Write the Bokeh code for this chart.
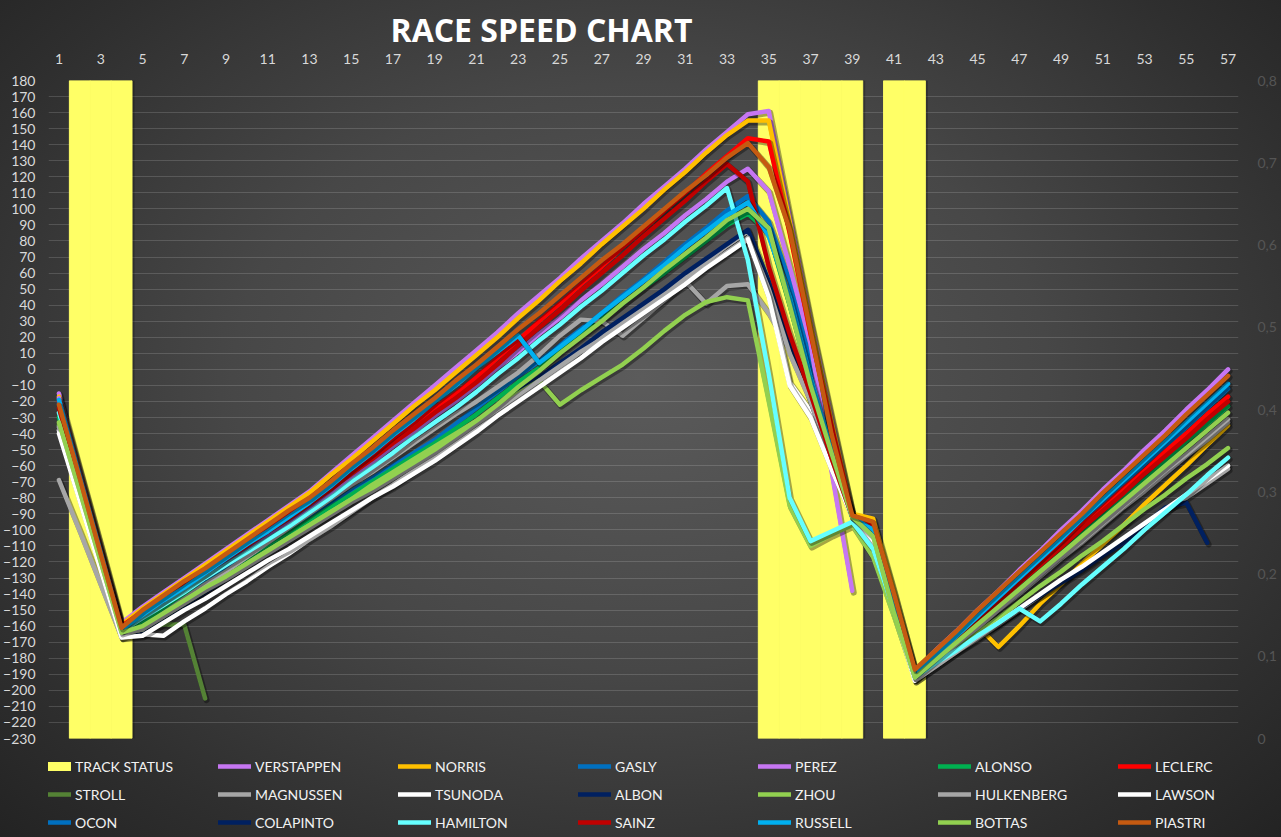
from bokeh.plotting import figure
from bokeh.layouts import column
from bokeh.models import (Range1d, LinearAxis, FixedTicker, CustomJSTickFormatter,
                          Legend, LegendItem, InlineStyleSheet)
from bokeh.embed import file_html
from bokeh.resources import INLINE

NAN = float("nan")
LAPS = list(range(1, 58))
X_TICKS = list(range(1, 58, 2))
Y_TICKS = list(range(-230, 181, 10))
STATUS_TICKS = [0, 0.1, 0.2, 0.3, 0.4, 0.5, 0.6, 0.7, 0.8]

# 0.8 = safety car / VSC lap (secondary axis)
TRACK_STATUS = [
    0, 0.8, 0.8, 0.8, 0, 0, 0, 0, 0, 0,
    0, 0, 0, 0, 0, 0, 0, 0, 0, 0,
    0, 0, 0, 0, 0, 0, 0, 0, 0, 0,
    0, 0, 0, 0, 0.8, 0.8, 0.8, 0.8, 0.8, 0,
    0.8, 0.8, 0, 0, 0, 0, 0, 0, 0, 0,
    0, 0, 0, 0, 0, 0, 0]

VERSTAPPEN = [
    -15, -63, -110, -158, -148, -139, -130, -121, -112, -103,
    -94, -85, -76, -65, -54, -43, -32, -21, -10, 1,
    12, 23, 35, 46, 57, 69, 80, 91, 103, 114,
    125, 137, 148, 159, 161, 95, 30, -30, -90, -97,
    -142, -188, -175, -163, -150, -138, -125, -113, -100, -88,
    -75, -63, -50, -38, -25, -13, 0]
NORRIS = [
    -17, -64, -111, -159, -149, -140, -131, -122, -113, -104,
    -95, -86, -77, -66, -56, -45, -34, -23, -13, -2,
    9, 20, 32, 43, 55, 66, 78, 89, 100, 112,
    123, 135, 146, 155, 155, 92, 28, -32, -90, -93,
    -139, -188, -179, -169, -160, -173, -160, -146, -134, -121,
    -109, -97, -84, -72, -60, -47, -35]
GASLY = [
    -21, -68, -115, -162, -156, -148, -140, -132, -124, -116,
    -108, -100, -92, -84, -76, -68, -60, -52, -44, -34,
    -24, -14, -4, 5, 15, 25, 35, 46, 56, 67,
    78, 88, 99, 108, 92, 55, 5, -45, -91, -100,
    -145, -190, -178, -166, -154, -143, -131, -119, -107, -95,
    -83, -71, -59, -48, -36, -24, -12]
PEREZ = [
    -18, -65, -113, -160, -153, -145, -136, -128, -120, -111,
    -103, -95, -87, -77, -68, -58, -48, -39, -29, -20,
    -10, 1, 11, 22, 32, 43, 53, 64, 75, 85,
    96, 106, 117, 125, 111, 64, 16, -63, -138]
ALONSO = [
    -30, -74, -119, -163, -158, -150, -142, -134, -126, -118,
    -110, -102, -94, -86, -78, -70, -62, -54, -46, -37,
    -28, -18, -8, 1, 11, 21, 31, 41, 51, 60,
    70, 80, 90, 97, 85, 40, -8, -50, -92, -104,
    -148, -191, -180, -169, -157, -146, -135, -124, -113, -101,
    -90, -79, -68, -57, -45, -34, -23]
LECLERC = [
    -20, -67, -113, -160, -151, -142, -134, -125, -117, -108,
    -99, -91, -82, -72, -63, -53, -43, -34, -24, -15,
    -5, 7, 18, 30, 41, 53, 64, 76, 87, 99,
    110, 122, 133, 144, 142, 85, 22, -35, -91, -98,
    -143, -189, -178, -166, -155, -143, -132, -120, -109, -97,
    -86, -74, -63, -51, -40, -28, -17]
STROLL = [-34, -77, -120, -163, -162, -159, -159, -205]
MAGNUSSEN = [
    -69, -101, -134, -167, -161, -152, -143, -134, -126, -117,
    -108, -99, -90, -81, -72, -64, -55, -46, -37, -28,
    -20, -11, -2, 9, 21, 31, 30, 21, 32, 43,
    55, 41, 52, 53, 35, 12, -12, -52, -90, -107,
    -150, -193, -182, -172, -161, -150, -140, -129, -118, -108,
    -97, -86, -76, -65, -54, -44, -33]
TSUNODA = [
    -38, -81, -124, -167, -165, -166, -157, -149, -140, -132,
    -123, -115, -106, -98, -89, -80, -72, -63, -55, -46,
    -36, -27, -17, -8, 1, 11, 20, 30, 39, 48,
    58, 67, 77, 86, 51, -8, -26, -60, -92, -106,
    -150, -194, -185, -176, -168, -159, -150, -141, -132, -124,
    -115, -106, -97, -88, -80, -71, -62]
ALBON = [
    -35, -78, -122, -165, -163, -155, -147, -139, -131, -123,
    -115, -107, -98, -90, -82, -74, -66, -58, -50, -41,
    -32, -23, -14, -5, 4, 13, 23, 32, 41, 50,
    60, 69, 78, 87, 55, 15, -20, -55, -91, -103,
    -147, -191, -183, -174, -166, -158, -149, -141, -133, -125,
    -116, -108, -97, -86, -83, -108]
ZHOU = [
    -35, -78, -122, -165, -162, -154, -146, -138, -129, -121,
    -113, -105, -97, -89, -81, -72, -64, -56, -48, -40,
    -32, -24, -15, -7, -22, -13, -5, 3, 13, 24,
    34, 42, 45, 43, -20, -85, -110, -103, -97, -117,
    -154, -193, -183, -174, -164, -155, -145, -135, -126, -116,
    -107, -97, -87, -78, -68, -59, -49]
HULKENBERG = [
    -36, -79, -122, -165, -162, -154, -146, -138, -131, -123,
    -115, -107, -99, -91, -83, -76, -68, -60, -52, -43,
    -34, -25, -16, -7, 2, 11, 19, 28, 37, 46,
    55, 64, 73, 82, 50, 10, -20, -58, -91, -107,
    -149, -193, -182, -171, -161, -150, -139, -128, -117, -107,
    -96, -85, -74, -63, -53, -42, -31]
LAWSON = [
    -40, -82, -125, -167, -166, -158, -150, -143, -135, -127,
    -119, -112, -104, -96, -88, -80, -73, -65, -57, -48,
    -39, -29, -20, -11, -2, 7, 17, 26, 35, 44,
    53, 63, 72, 81, 45, -10, -30, -62, -92, -108,
    -151, -194, -185, -176, -167, -158, -149, -140, -131, -123,
    -114, -105, -96, -87, -78, -69, -60]
OCON = []       # no laps recorded
COLAPINTO = []  # no laps recorded
HAMILTON = [
    -27, -72, -118, -163, -155, -147, -139, -130, -122, -114,
    -106, -98, -89, -80, -70, -61, -52, -42, -33, -24,
    -14, -3, 7, 18, 28, 39, 49, 60, 71, 81,
    92, 102, 113, 68, -3, -80, -107, -101, -95, -112,
    -150, -192, -183, -175, -166, -158, -149, -157, -146, -134,
    -123, -112, -100, -89, -78, -66, -55]
SAINZ = [
    -24, -70, -116, -161, -152, -144, -135, -127, -118, -110,
    -101, -93, -84, -75, -65, -56, -46, -37, -27, -18,
    -8, 3, 15, 26, 37, 49, 60, 71, 83, 94,
    105, 117, 128, 117, 64, 22, -15, -55, -92, -102,
    -146, -190, -179, -167, -156, -145, -133, -122, -111, -99,
    -88, -77, -65, -54, -43, -31, -20]
RUSSELL = [
    -19, -67, -114, -162, -153, -144, -136, -127, -118, -109,
    -101, -92, -83, -73, -62, -52, -41, -31, -20, -10,
    1, 11, 21, 4, 14, 24, 35, 45, 55, 65,
    76, 86, 96, 104, 83, 45, -5, -50, -92, -100,
    -145, -190, -178, -166, -154, -142, -130, -118, -106, -93,
    -81, -69, -57, -45, -33, -21, -9]
BOTTAS = [
    -33, -76, -120, -164, -160, -152, -144, -136, -129, -121,
    -113, -105, -97, -89, -81, -74, -66, -58, -50, -41,
    -32, -22, -11, -1, 10, 20, 30, 41, 51, 62,
    72, 82, 93, 100, 88, 40, -10, -52, -92, -104,
    -152, -192, -181, -170, -159, -148, -137, -126, -115, -104,
    -93, -82, -71, -60, -49, -38, -27]
PIASTRI = [
    -22, -68, -115, -161, -150, -141, -132, -124, -115, -106,
    -97, -88, -80, -70, -59, -49, -38, -28, -18, -7,
    3, 14, 25, 35, 46, 57, 68, 78, 89, 100,
    111, 121, 132, 141, 126, 87, 24, -40, -91, -95,
    -140, -187, -175, -163, -150, -138, -126, -114, -102, -90,
    -77, -65, -53, -41, -28, -16, -4]

DRIVERS = [
    ("VERSTAPPEN", VERSTAPPEN, "#c676f2"),
    ("NORRIS", NORRIS, "#ffc000"),
    ("GASLY", GASLY, "#0070c0"),
    ("PEREZ", PEREZ, "#c676f2"),
    ("ALONSO", ALONSO, "#00b050"),
    ("LECLERC", LECLERC, "#ff0000"),
    ("STROLL", STROLL, "#548235"),
    ("MAGNUSSEN", MAGNUSSEN, "#a6a6a6"),
    ("TSUNODA", TSUNODA, "#ffffff"),
    ("ALBON", ALBON, "#002060"),
    ("ZHOU", ZHOU, "#92d050"),
    ("HULKENBERG", HULKENBERG, "#a6a6a6"),
    ("LAWSON", LAWSON, "#ffffff"),
    ("OCON", OCON, "#0070c0"),
    ("COLAPINTO", COLAPINTO, "#002060"),
    ("HAMILTON", HAMILTON, "#66ffff"),
    ("SAINZ", SAINZ, "#c00000"),
    ("RUSSELL", RUSSELL, "#00b0f0"),
    ("BOTTAS", BOTTAS, "#92d050"),
    ("PIASTRI", PIASTRI, "#c55a11"),
]

FONT = "Lato"
YELLOW = "#ffff66"
LINE_W = 4.5

# ---------------- main chart ----------------
p = figure(width=1281, height=746,
           x_range=Range1d(0.5, 57.5), y_range=Range1d(-230, 180),
           output_backend="svg", toolbar_location=None, x_axis_location="above",
           min_border_left=46, min_border_right=43, min_border_top=80, min_border_bottom=8,
           border_fill_color=None, background_fill_color=None, outline_line_color=None,
           title="RACE SPEED CHART")
p.extra_y_ranges = {"status": Range1d(0, 0.8)}

p.title.align = "left"
p.title.offset = 342
p.title.standoff = 0
p.title.text_color = "#ffffff"
p.title.text_font = "Open Sans"
p.title.text_font_style = "bold"
p.title.text_font_size = "32px"

xa = p.xaxis[0]
xa.ticker = FixedTicker(ticks=X_TICKS)
ya = p.yaxis[0]
ya.ticker = FixedTicker(ticks=Y_TICKS)
ra = LinearAxis(y_range_name="status", ticker=FixedTicker(ticks=STATUS_TICKS),
                formatter=CustomJSTickFormatter(code="return tick == 0 ? '0' : tick.toFixed(1).replace('.', ',');"))
p.add_layout(ra, "right")

for ax, col, stand in ((xa, "#d9d9d9", 17), (ya, "#d9d9d9", 13), (ra, "#555555", 19)):
    ax.axis_line_color = None
    ax.major_tick_line_color = None
    ax.minor_tick_line_color = None
    ax.major_tick_out = 0
    ax.major_tick_in = 0
    ax.minor_tick_out = 0
    ax.minor_tick_in = 0
    ax.major_label_text_color = col
    ax.major_label_text_font = FONT
    ax.major_label_text_font_size = "14px"
    ax.major_label_standoff = stand

p.xgrid.visible = False
p.ygrid.grid_line_color = "#ffffff"
p.ygrid.grid_line_alpha = 0.15

# track status bars (secondary axis), only laps flagged, with a soft shadow
sc_laps = [lap for lap, s in zip(LAPS, TRACK_STATUS) if s > 0]
sc_vals = [s for s in TRACK_STATUS if s > 0]
p.vbar(x=[lap + 0.12 for lap in sc_laps], top=sc_vals, width=1, y_range_name="status",
       fill_color="#000000", fill_alpha=0.25, line_color=None)
p.vbar(x=sc_laps, top=sc_vals, width=1, y_range_name="status",
       fill_color=YELLOW, line_color=YELLOW, line_width=1)

# driver lines with a dark drop shadow
for name, vals, color in DRIVERS:
    xs = LAPS[:len(vals)]
    p.line(x=[x + 0.07 for x in xs], y=[v - 1.1 for v in vals], line_color="#000000",
           line_alpha=0.35, line_width=LINE_W + 1.5, line_join="round", line_cap="round")
    p.line(x=xs, y=vals, line_color=color, line_width=LINE_W,
           line_join="round", line_cap="round")

# ---------------- legend strip ----------------
q = figure(width=1281, height=91, x_range=Range1d(0, 1), y_range=Range1d(0, 1),
           output_backend="svg", toolbar_location=None,
           x_axis_location=None, y_axis_location=None,
           min_border_left=0, min_border_right=0, min_border_top=0, min_border_bottom=0,
           border_fill_color=None, background_fill_color=None, outline_line_color=None)
q.xgrid.visible = False
q.ygrid.visible = False

items = [LegendItem(label="TRACK STATUS",
                    renderers=[q.line(x=[NAN], y=[NAN], line_color=YELLOW, line_width=9,
                                      line_cap="butt")])]
for name, vals, color in DRIVERS:
    key = q.line(x=[NAN], y=[NAN], line_color=color, line_width=LINE_W, line_cap="round")
    items.append(LegendItem(label=name, renderers=[key]))

legend = Legend(items=items, location=(-10, 5), orientation="horizontal", ncols=7,
                glyph_width=33, glyph_height=20, label_height=20, label_width=135,
                label_standoff=4, spacing=8, padding=0, margin=0,
                border_line_color=None, background_fill_alpha=0,
                label_text_color="#f2f2f2", label_text_font=FONT, label_text_font_size="14px")
q.add_layout(legend)

page = column(p, q, spacing=0, stylesheets=[InlineStyleSheet(
    css=":host { background: radial-gradient(ellipse farthest-corner at 50% 45%, "
        "#5b5b5b 0%, #474747 45%, #2f2f2f 80%, #232323 100%); }")])

open("out.html", "w").write(file_html(page, INLINE))
